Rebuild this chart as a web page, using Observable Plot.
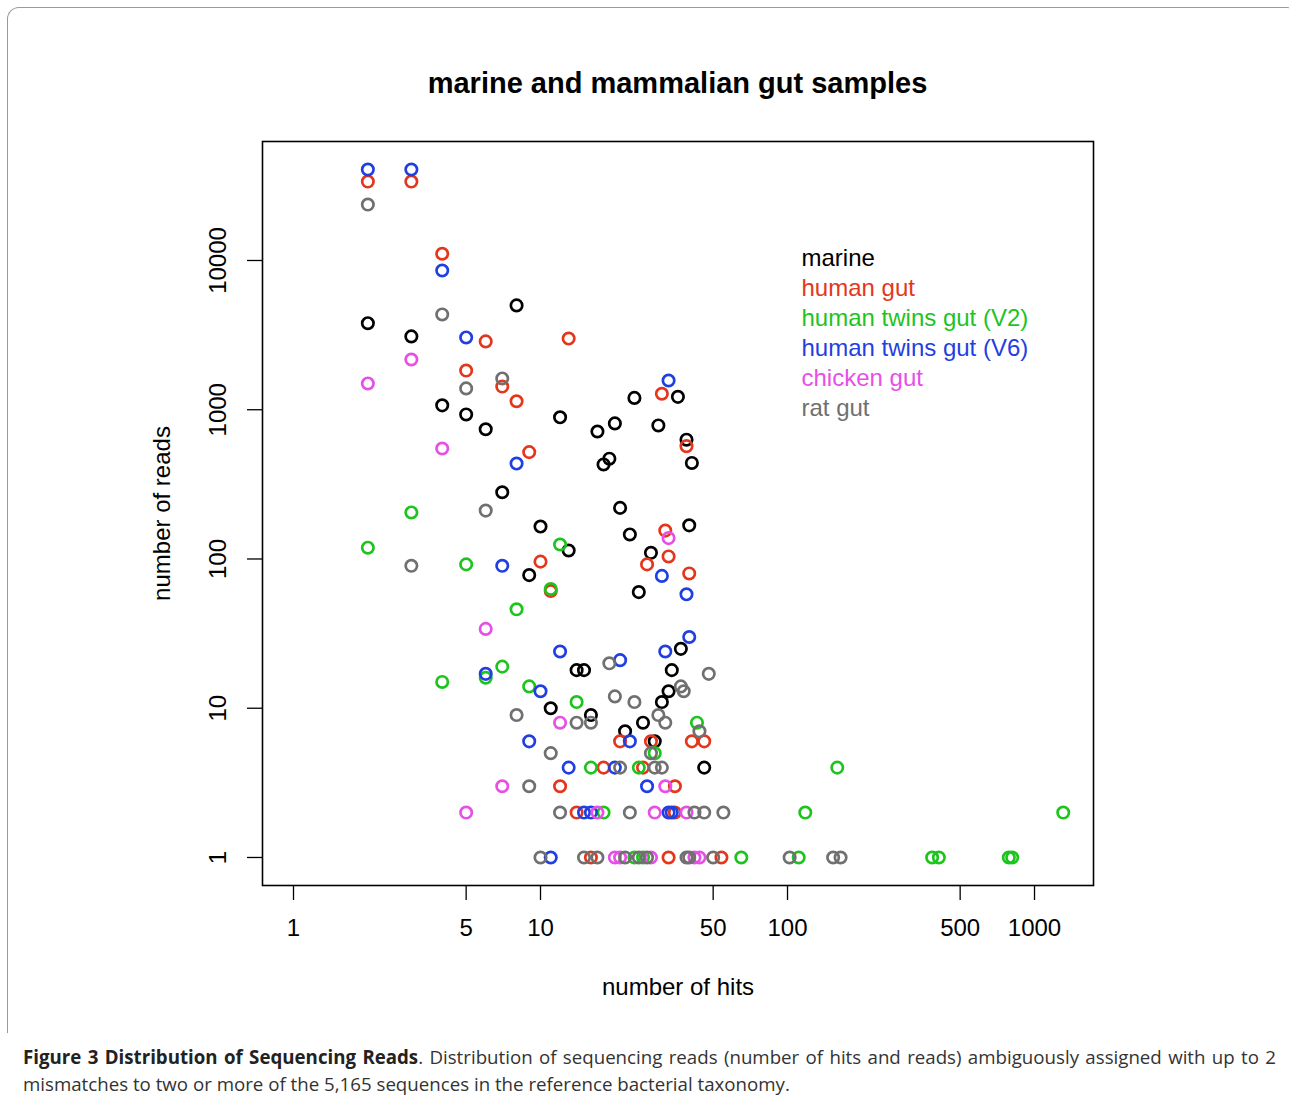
<!DOCTYPE html>
<html>
<head>
<meta charset="utf-8">
<script src="https://cdn.jsdelivr.net/npm/d3@7"></script>
<script src="https://cdn.jsdelivr.net/npm/@observablehq/plot@0.6"></script>
<style>
  html, body { margin: 0; padding: 0; background: #fff; }
  #page { position: relative; width: 1289px; height: 1100px; overflow: hidden; font-family: "Liberation Sans", Arial, sans-serif; }
  #border { position: absolute; left: 7px; top: 7px; width: 1290px; height: 1025px; border: 1px solid #9a9a9a; border-bottom: none; border-radius: 12px 12px 0 0; }
  #title { position: absolute; left: 262px; width: 831px; top: 67px; text-align: center; font-weight: bold; font-size: 29px; line-height: 32px; color: #000; }
  #chart { position: absolute; left: 0; top: 120px; }
  #chart svg text { font-family: "Liberation Sans", Arial, sans-serif; }
  #caption { position: absolute; left: 23px; top: 1043px; width: 1253px; font-family: "Open Sans", sans-serif; font-size: 18.7px; line-height: 27px; color: #333; text-align: justify; }
  #caption b { color: #222; }
</style>
</head>
<body>
<div id="page">
  <div id="border"></div>
  <div id="title">marine and mammalian gut samples</div>
  <div id="chart"></div>
  <div id="caption"><b>Figure 3 Distribution of Sequencing Reads</b>. Distribution of sequencing reads (number of hits and reads) ambiguously assigned with up to 2 mismatches to two or more of the 5,165 sequences in the reference bacterial taxonomy.</div>
</div>
<script>
// ---- data (number of hits, number of reads) ----
const seriesNames = ["marine", "human gut", "human twins gut (V2)", "human twins gut (V6)", "chicken gut", "rat gut"];
const seriesColors = ["#000000", "#e5361b", "#1ec41e", "#1f3fe3", "#e74fe7", "#707070"];

const marineHits  = [2, 3, 4, 5, 6, 7, 8, 9, 10, 11, 12, 13, 14, 15, 16, 17, 18, 19, 20, 21, 22, 23, 24, 25, 26, 28, 29, 30, 31, 33, 34, 36, 37, 39, 40, 41, 46];
const marineReads = [3800, 3100, 1070, 930, 740, 280, 5000, 78, 165, 10, 890, 114, 18, 18, 9, 715, 430, 470, 810, 220, 7, 146, 1200, 60, 8, 110, 6, 785, 11, 13, 18, 1220, 25, 630, 168, 440, 4];

const humanHits  = [2, 3, 4, 5, 6, 7, 8, 9, 10, 11, 12, 13, 14, 16, 18, 21, 26, 27, 28, 31, 32, 33, 33, 35, 35, 39, 40, 41, 46, 54];
const humanReads = [33800, 33800, 11100, 1830, 2870, 1430, 1140, 520, 96, 61, 3, 3000, 2, 1, 4, 6, 4, 92, 6, 1280, 155, 104, 1, 3, 2, 570, 80, 6, 6, 1];

const twinsV2Hits  = [2, 3, 4, 5, 6, 7, 8, 9, 11, 12, 14, 16, 18, 24, 25, 26, 29, 43, 65, 111, 118, 159, 385, 410, 787, 812, 1307];
const twinsV2Reads = [119, 205, 15, 92, 16, 19, 46, 14, 63, 125, 11, 4, 2, 1, 4, 1, 5, 8, 1, 1, 2, 4, 1, 1, 1, 1, 2];

const twinsV6Hits  = [2, 3, 4, 5, 6, 7, 8, 9, 10, 11, 12, 13, 15, 16, 20, 21, 23, 27, 31, 32, 33, 33, 34, 39, 40];
const twinsV6Reads = [40700, 40700, 8570, 3050, 17, 90, 436, 6, 13, 1, 24, 4, 2, 2, 4, 21, 6, 3, 77, 24, 1570, 2, 2, 58, 30];

const chickenHits  = [2, 3, 4, 5, 6, 7, 12, 17, 20, 21, 28, 29, 32, 33, 39, 42, 44];
const chickenReads = [1500, 2170, 550, 2, 34, 3, 8, 2, 1, 1, 1, 2, 3, 138, 2, 1, 1];

const ratHits  = [2, 3, 4, 5, 6, 7, 8, 9, 10, 11, 12, 14, 15, 16, 17, 19, 20, 21, 22, 23, 24, 25, 27, 28, 29, 30, 31, 32, 37, 38, 39, 40, 42, 44, 46, 48, 50, 55, 102, 153, 164];
const ratReads = [23700, 90, 4350, 1390, 211, 1620, 9, 3, 1, 5, 2, 8, 1, 8, 1, 20, 12, 4, 1, 2, 11, 1, 1, 5, 4, 9, 4, 8, 14, 13, 1, 1, 2, 7, 2, 17, 1, 2, 1, 1, 1];

const xTicks = [1, 5, 10, 50, 100, 500, 1000];
const yTicks = [1, 10, 100, 1000, 10000];

// ---- build ----
const hitsList  = [marineHits, humanHits, twinsV2Hits, twinsV6Hits, chickenHits, ratHits];
const readsList = [marineReads, humanReads, twinsV2Reads, twinsV6Reads, chickenReads, ratReads];
const series = seriesNames.map((name, i) => ({
  name, color: seriesColors[i],
  rows: hitsList[i].map((h, j) => ({hits: h, reads: readsList[i][j]}))
}));

const fontSize = 24;
const fontFamily = "Liberation Sans, Arial, sans-serif";
const marks = [
  Plot.frame({stroke: "#000", strokeWidth: 1.6}),
  Plot.axisX(xTicks, {tickSize: 15, tickFormat: () => "", label: null, strokeWidth: 1.3}),
  Plot.axisY(yTicks, {tickSize: 15, tickFormat: () => "", label: null, strokeWidth: 1.3}),
  Plot.text(xTicks, {x: d => d, text: d => String(d), frameAnchor: "bottom", dy: 43, textAnchor: "middle", lineAnchor: "middle", fontSize, fontFamily, fill: "#000"}),
  Plot.text(yTicks, {y: d => d, text: d => String(d), frameAnchor: "left", dx: -44, rotate: -90, textAnchor: "middle", lineAnchor: "middle", fontSize, fontFamily, fill: "#000"}),
  Plot.text(["number of reads"], {text: d => d, frameAnchor: "left", dx: -100, rotate: -90, textAnchor: "middle", lineAnchor: "middle", fontSize, fontFamily, fill: "#000"}),
  Plot.text(["number of hits"], {text: d => d, frameAnchor: "bottom", dy: 102, textAnchor: "middle", lineAnchor: "middle", fontSize, fontFamily, fill: "#000"})
];
series.forEach(s => {
  marks.push(Plot.dot(s.rows, {x: "hits", y: "reads", r: 5.7, stroke: s.color, strokeWidth: 2.7, fill: "none"}));
});
series.forEach((s, i) => {
  marks.push(Plot.text([s.name], {text: d => d, frameAnchor: "top-left", dx: 539, dy: 117 + 30 * i, textAnchor: "start", lineAnchor: "middle", fontSize, fontFamily, fill: s.color}));
});

const chart = Plot.plot({
  width: 1289,
  height: 900,
  marginTop: 21,
  marginBottom: 135,
  marginLeft: 262,
  marginRight: 196,
  x: {type: "log", domain: [0.749, 1733]},
  y: {type: "log", domain: [0.649, 62700]},
  style: {fontFamily, fontSize: "24px", background: "transparent", color: "#000"},
  marks
});
document.getElementById("chart").appendChild(chart);
</script>
</body>
</html>
